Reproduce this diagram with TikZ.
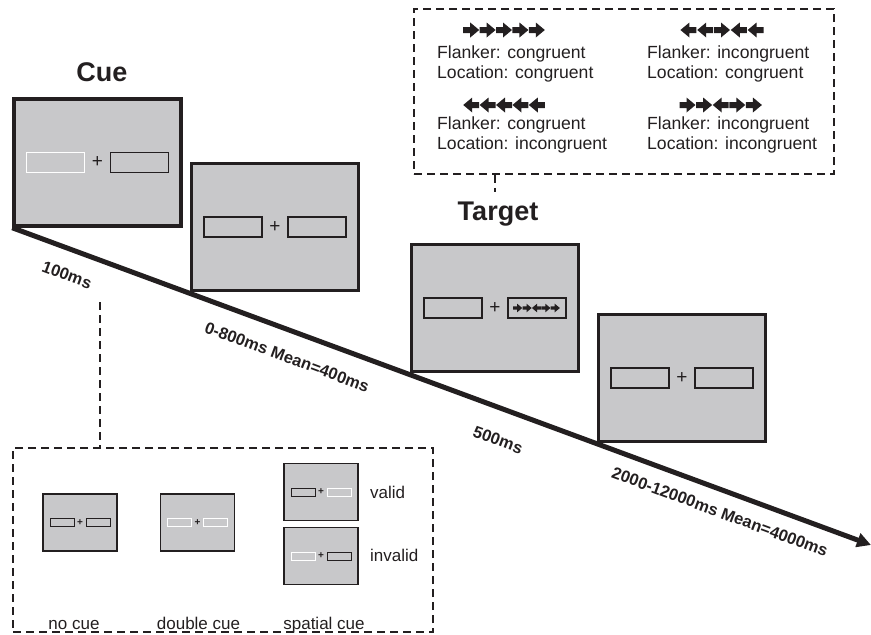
\documentclass[tikz,border=0pt]{standalone}
\usepackage{fontspec}
\setmainfont{Liberation Sans}
\usetikzlibrary{arrows.meta}
\definecolor{scr}{HTML}{C8C8CA}
\definecolor{edge}{HTML}{231F20}
\tikzset{
  screen/.style={draw=edge, line width=3.5pt, fill=scr, minimum width=167pt, minimum height=127pt, inner sep=0pt},
  inbox/.style={line width=1.5pt, fill=scr, minimum width=58pt, minimum height=20pt, inner sep=0pt},
  plus/.style={font=\fontsize{19}{19}\selectfont, text=edge, inner sep=0pt},
  sscreen/.style={draw=edge, line width=1.6pt, fill=scr, minimum width=74pt, minimum height=57pt, inner sep=0pt},
  sinbox/.style={line width=1pt, fill=scr, minimum width=24pt, minimum height=8pt, inner sep=0pt},
  splus/.style={font=\fontsize{10}{10}\selectfont\bfseries, text=edge, inner sep=0pt},
  dashbox/.style={draw=edge, line width=1.6pt, dash pattern=on 8pt off 5pt, inner sep=0pt},
  dashline/.style={draw=edge, line width=1.6pt, dash pattern=on 8pt off 5pt},
  timelabel/.style={font=\fontsize{16.5}{16.5}\selectfont\bfseries, text=edge, rotate=-20.3, inner sep=0pt},
  title/.style={font=\fontsize{27}{27}\selectfont\bfseries, text=edge, inner sep=0pt},
  legtext/.style={font=\fontsize{17.6}{20}\selectfont, text=edge, align=left, anchor=west, inner sep=0pt},
  smalltext/.style={font=\fontsize{17}{17}\selectfont, text=edge, inner sep=0pt, anchor=base},
  flankR/.pic={\fill[edge] (-8,3)--(-1,3)--(-1,7.5)--(8,0)--(-1,-7.5)--(-1,-3)--(-8,-3)--cycle;},
  flankL/.pic={\fill[edge] (8,3)--(1,3)--(1,7.5)--(-8,0)--(1,-7.5)--(1,-3)--(8,-3)--cycle;}
}
\newcommand\bigscreen[5]{%
  \node[screen] (#1) at (#2,#3) {};
  \node[inbox, draw=#4] (#1l) at ([xshift=-42pt]#1.center) {};
  \node[inbox, draw=#5] (#1r) at ([xshift=42pt]#1.center) {};
  \node[plus] (#1p) at (#1.center) {+};
}
\newcommand\smallscreen[5]{%
  \node[sscreen] (#1) at (#2,#3) {};
  \node[sinbox, draw=#4] (#1l) at ([xshift=-18pt]#1.center) {};
  \node[sinbox, draw=#5] (#1r) at ([xshift=18pt]#1.center) {};
  \node[splus] (#1p) at (#1.center) {+};
}
\begin{document}
\begin{tikzpicture}[x=1pt,y=-1pt]
\useasboundingbox (0,0) rectangle (871,635);

% timeline
\coordinate (tend) at (871,545);
\bigscreen{s1}{97.5}{162.5}{white}{edge}
\draw[edge, line width=5pt, -{Triangle[length=14pt,width=14pt]}] (s1.south west) -- (tend);
\bigscreen{s2}{275}{227}{edge}{edge}
\bigscreen{s3}{495}{308}{edge}{edge}
\bigscreen{s4}{682}{378}{edge}{edge}
\foreach \d [count=\i from 0] in {R,R,L,R,R}
  \pic[scale=0.57] at ({517.7+\i*9.4},308) {flank\d};

% titles
\node[title] (cue) at (102,72) {Cue};
\node[title] (target) at (498,214) {Target};

% time labels
\node[timelabel] (t1) at (67,275) {100ms};
\node[timelabel] (t2) at (287,357) {0-800ms Mean=400ms};
\node[timelabel] (t3) at (498,440) {500ms};
\node[timelabel] (t4) at (720,512) {2000-12000ms Mean=4000ms};

% flanker legend
\node[dashbox, minimum width=420pt, minimum height=165pt] (flk) at (624,91.5) {};
\coordinate (tc) at (495,192);
\draw[dashline] (flk.south -| tc) -- (tc);
\foreach \d [count=\i from 0] in {R,R,R,R,R}
  \pic at ({471.2+\i*16.4},30) {flank\d};
\foreach \d [count=\i from 0] in {L,L,R,L,L}
  \pic at ({688.4+\i*16.8},30) {flank\d};
\foreach \d [count=\i from 0] in {L,L,L,L,L}
  \pic at ({471.2+\i*16.4},105) {flank\d};
\foreach \d [count=\i from 0] in {R,R,L,R,R}
  \pic at ({687.5+\i*16.6},105) {flank\d};
\node[legtext] (l1) at (437,64) {Flanker: congruent\\Location: congruent};
\node[legtext] (l2) at (647,64) {Flanker: incongruent\\Location: congruent};
\node[legtext] (l3) at (437,134.5) {Flanker: congruent\\Location: incongruent};
\node[legtext] (l4) at (647,134.5) {Flanker: incongruent\\Location: incongruent};

% cue legend
\node[dashbox, minimum width=420pt, minimum height=184pt] (cb) at (223,540) {};
\coordinate (cc) at (100,302);
\draw[dashline] (cc) -- (cc |- cb.north);
\smallscreen{nc}{80}{522.5}{edge}{edge}
\smallscreen{dc}{197.5}{522.5}{white}{white}
\smallscreen{vc}{321}{492}{edge}{white}
\smallscreen{ic}{321}{556}{white}{edge}
\node[smalltext] (ncl) at (74,629) {no cue};
\node[smalltext] (dcl) at (198.5,629) {double cue};
\node[smalltext] (scl) at (324,629) {spatial cue};
\node[smalltext, anchor=base west] (vl) at (370,498) {valid};
\node[smalltext, anchor=base west] (il) at (370,561) {invalid};
\end{tikzpicture}
\end{document}
